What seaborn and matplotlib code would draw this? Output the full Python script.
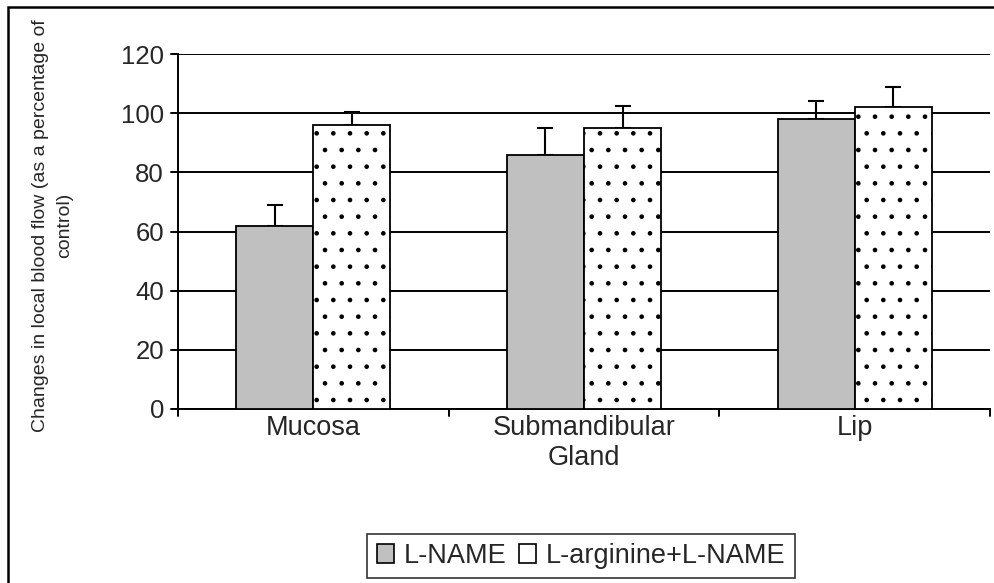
import matplotlib
matplotlib.use("Agg")
import matplotlib.pyplot as plt
import seaborn as sns
import pandas as pd
import numpy as np
from matplotlib.patches import Rectangle, Patch
from matplotlib.container import BarContainer

categories = ["Mucosa", "Submandibular\nGland", "Lip"]
series_names = ["L-NAME", "L-arginine+L-NAME"]
lname_vals = [62, 86, 98]
lname_err = [7, 9, 6]
larg_vals = [96, 95, 102]
larg_err = [4.5, 7.5, 7]
yticks = [0, 20, 40, 60, 80, 100, 120]

sns.set_theme(style="white")
plt.rcParams["font.family"] = ["Liberation Sans", "DejaVu Sans"]
plt.rcParams["hatch.linewidth"] = 0.9
plt.rcParams["hatch.color"] = "black"

df = pd.DataFrame({
    "cat": categories * 2,
    "series": [series_names[0]] * 3 + [series_names[1]] * 3,
    "val": lname_vals + larg_vals,
})

FS_TICK = 18.5
FS_CAT = 19.5

fig = plt.figure(figsize=(9.95, 5.83), dpi=100)
ax = fig.add_axes([178/995, 174/583, (990-178)/995, (409-54)/583])

sns.barplot(data=df, x="cat", y="val", hue="series", order=categories,
            hue_order=series_names, palette=["#c0c0c0", "white"],
            width=0.57, gap=0, errorbar=None, legend=False, ax=ax, zorder=3)

errs = [lname_err, larg_err]
vals = [lname_vals, larg_vals]
bar_conts = [c for c in ax.containers if isinstance(c, BarContainer)]
for i, cont in enumerate(bar_conts):
    for j, bar in enumerate(cont.patches):
        bar.set_edgecolor("black")
        bar.set_linewidth(1.3)
        if i == 1:
            bar.set_hatch(".")
        cx = bar.get_x() + bar.get_width() / 2
        ax.errorbar(cx, vals[i][j], yerr=[[0], [errs[i][j]]], fmt="none",
                    ecolor="black", elinewidth=1.5, capsize=6, capthick=1.5, zorder=2)

ax.set_ylim(0, 120)
ax.set_xlim(-0.5, 2.5)
ax.set_yticks(yticks)
ax.set_yticklabels([str(t) for t in yticks], fontsize=FS_TICK)
ax.yaxis.grid(True, color="black", linewidth=1.4, zorder=0)
ax.set_axisbelow(True)
ax.set_xticks([0, 1, 2])
ax.set_xticklabels(categories, fontsize=FS_CAT)
ax.tick_params(axis="x", length=0, pad=4)
ax.tick_params(axis="y", length=0, pad=10)
for x in [-0.5, 0.5, 1.5, 2.5]:
    ax.plot([x, x], [0, -2.5], color="black", lw=1.4, clip_on=False, zorder=5)
for t in yticks:
    ax.plot([-0.5 - 0.027, -0.5], [t, t], color="black", lw=1.4, clip_on=False, zorder=5)
for s in ["top", "right"]:
    ax.spines[s].set_visible(False)
for s in ["left", "bottom"]:
    ax.spines[s].set_color("black")
    ax.spines[s].set_linewidth(1.4)
ax.set_xlabel("")
ax.set_ylabel("Changes in local blood flow (as a percentage of\ncontrol)", fontsize=14,
              linespacing=1.55)
ax.yaxis.set_label_coords(-0.129, 0.517)

handles = [Patch(facecolor="#c0c0c0", edgecolor="black", lw=1.2, label=series_names[0]),
           Patch(facecolor="white", edgecolor="black", lw=1.2, label=series_names[1])]
leg = fig.legend(handles=handles, loc="center", bbox_to_anchor=(581/995, 27/583), ncol=2,
                 frameon=True, fancybox=False, fontsize=FS_CAT, handlelength=0.65,
                 handleheight=0.65, handletextpad=0.35, columnspacing=0.45,
                 borderpad=0.35, borderaxespad=0)
leg.get_frame().set_edgecolor("black")
leg.get_frame().set_linewidth(1.2)

fig.patches.append(Rectangle((8/995, -0.01), 1.0, 1 - 7/583 + 0.01, transform=fig.transFigure,
                             fill=False, edgecolor="black", lw=1.8))

fig.savefig("out.png", dpi=100)
